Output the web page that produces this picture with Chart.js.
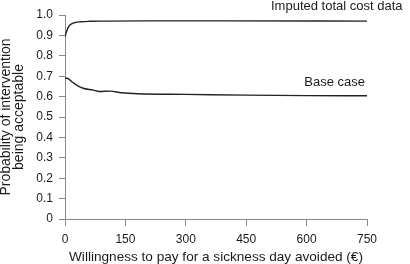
<!DOCTYPE html>
<html>
<head>
<meta charset="utf-8">
<script src="https://cdn.jsdelivr.net/npm/chart.js@4/dist/chart.umd.min.js"></script>
<style>
html,body{margin:0;padding:0;background:#fff;}
#wrap{width:410px;height:264px;position:relative;}
</style>
</head>
<body>
<div id="wrap"><canvas id="c" width="410" height="264"></canvas></div>
<script>
// Data
const wtpImputed = [0, 5, 10, 15, 25, 40, 60, 100, 200, 400, 750];
const probImputed = [0.895, 0.925, 0.945, 0.955, 0.963, 0.967, 0.969, 0.970, 0.971, 0.971, 0.970];
const wtpBase = [0, 5, 17, 30, 45, 70, 85, 112, 140, 180, 300, 450, 600, 750];
const probBase = [0.690, 0.690, 0.673, 0.655, 0.641, 0.632, 0.625, 0.627, 0.619, 0.614, 0.611, 0.607, 0.605, 0.604];
const seriesNames = ["Imputed total cost data", "Base case"];
const xTitle = "Willingness to pay for a sickness day avoided (\u20AC)";
const yTitle = ["Probability of intervention", "being acceptable"];

const FONT = "'Liberation Sans', Arial, Helvetica, sans-serif";
const TEXT = "#1a1a1a";
const AXIS = "#8a8a8a";

function pts(xs, ys){ return xs.map((x,i)=>({x:x,y:ys[i]})); }

const labelPlugin = {
  id: 'seriesLabels',
  afterDatasetsDraw(chart){
    const ctx = chart.ctx;
    const xs = chart.scales.x, ys = chart.scales.y;
    ctx.save();
    ctx.fillStyle = TEXT;
    ctx.font = "13px " + FONT;
    ctx.textBaseline = 'alphabetic';
    ctx.textAlign = 'left';
    ctx.fillText(seriesNames[0], xs.getPixelForValue(750) - 96, ys.getPixelForValue(1.0) - 5);
    ctx.textAlign = 'right';
    ctx.fillText(seriesNames[1], xs.getPixelForValue(750) - 2, ys.getPixelForValue(probBase[probBase.length-1]) - 10);
    ctx.restore();
  }
};

new Chart(document.getElementById('c'), {
  type: 'line',
  data: {
    datasets: [
      { label: seriesNames[0], data: pts(wtpImputed, probImputed), borderColor: '#222', borderWidth: 1.4,
        pointRadius: 0, fill: false, cubicInterpolationMode: 'monotone' },
      { label: seriesNames[1], data: pts(wtpBase, probBase), borderColor: '#222', borderWidth: 1.4,
        pointRadius: 0, fill: false, cubicInterpolationMode: 'monotone' }
    ]
  },
  options: {
    responsive: false,
    animation: false,
    devicePixelRatio: 1,
    layout: { padding: { left: 0, right: 43, top: 15, bottom: 0 } },
    plugins: { legend: { display: false }, tooltip: { enabled: false } },
    scales: {
      x: {
        type: 'linear', min: 0, max: 750,
        afterFit(s){ s.height = 45; },
        ticks: { stepSize: 150, color: TEXT, font: { family: FONT, size: 12 }, padding: 6, maxRotation: 0 },
        grid: { drawOnChartArea: false, drawTicks: true, tickLength: 7, color: AXIS, lineWidth: 1 },
        border: { display: true, color: AXIS, width: 1 },
        title: { display: true, text: xTitle, color: TEXT, font: { family: FONT, size: 13.6, lineHeight: 1.0 }, padding: { top: 0, bottom: 0 } }
      },
      y: {
        type: 'linear', min: 0, max: 1,
        afterFit(s){ s.width = 65; },
        ticks: { stepSize: 0.1, color: TEXT, font: { family: FONT, size: 12 }, padding: 6,
          callback: v => (Math.abs(v) < 1e-9 ? '0' : v.toFixed(1)) },
        grid: { drawOnChartArea: false, drawTicks: true, tickLength: 6, color: AXIS, lineWidth: 1 },
        border: { display: true, color: AXIS, width: 1 },
        title: { display: true, text: yTitle, color: TEXT, font: { family: FONT, size: 14, lineHeight: 0.92 }, padding: { top: 0, bottom: 0 } }
      }
    }
  },
  plugins: [labelPlugin]
});
</script>
</body>
</html>
